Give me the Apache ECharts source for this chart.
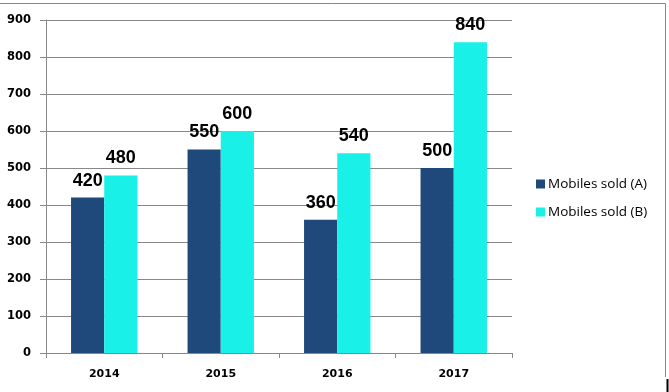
<!DOCTYPE html>
<html><head><meta charset="utf-8">
<script src="https://cdn.jsdelivr.net/npm/echarts@6/dist/echarts.min.js"></script>
<style>html,body{margin:0;padding:0;background:#fff}#c{width:669px;height:392px}</style>
</head><body><div id="c"></div>
<script>
var categories = ['2014', '2015', '2016', '2017'];
var seriesA = [420, 550, 360, 500];
var seriesB = [480, 600, 540, 840];
var yTicks = [0, 100, 200, 300, 400, 500, 600, 700, 800, 900];
var names = ['Mobiles sold (A)', 'Mobiles sold (B)'];

var chart = echarts.init(document.getElementById('c'), null, {renderer: 'canvas'});
var lbl = {show: true, position: 'top', distance: 8, color: '#000', fontFamily: 'Liberation Sans', fontWeight: 'bold', fontSize: 18};
chart.setOption({
  animation: false,
  backgroundColor: '#fff',
  grid: {left: 46, right: 157, top: 20, bottom: 39, containLabel: false},
  legend: {
    orient: 'vertical', left: 536, top: 177, padding: 0, itemWidth: 9, itemHeight: 9, itemGap: 14,
    icon: 'rect',
    textStyle: {fontFamily: 'Open Sans', fontSize: 13.5, color: '#000', padding: [0, 0, 0, -2]},
    data: names
  },
  xAxis: {
    type: 'category', data: categories,
    axisLine: {lineStyle: {color: '#888', width: 1}},
    axisTick: {show: true, length: 5, lineStyle: {color: '#888'}},
    axisLabel: {fontFamily: 'DejaVu Sans', fontWeight: 'bold', fontSize: 11, color: '#000', margin: 16}
  },
  yAxis: {
    type: 'value', min: 0, max: 900, interval: 100,
    axisLine: {show: true, lineStyle: {color: '#888', width: 1}},
    axisTick: {show: true, length: 6, lineStyle: {color: '#888'}},
    splitLine: {lineStyle: {color: '#888', width: 1}},
    axisLabel: {fontFamily: 'DejaVu Sans', fontWeight: 'bold', fontSize: 11.5, color: '#000', margin: 15,
      formatter: function (v) { return yTicks.indexOf(v) >= 0 ? String(v) : ''; }}
  },
  series: [
    {name: names[0], type: 'bar', data: seriesA, barGap: '0%', barCategoryGap: '43%', itemStyle: {color: '#1F487B'}, label: lbl},
    {name: names[1], type: 'bar', data: seriesB, barGap: '0%', barCategoryGap: '43%', itemStyle: {color: '#19F0E8'}, label: lbl}
  ],
  graphic: [
    {type: 'line', shape: {x1: 0, y1: 3.5, x2: 665.5, y2: 3.5}, style: {stroke: '#888', lineWidth: 1}},
    {type: 'line', shape: {x1: 665.5, y1: 3.5, x2: 665.5, y2: 377}, style: {stroke: '#888', lineWidth: 1}},
    {type: 'line', shape: {x1: 667.5, y1: 379, x2: 667.5, y2: 392}, style: {stroke: '#000', lineWidth: 2}}
  ]
});
</script></body></html>
